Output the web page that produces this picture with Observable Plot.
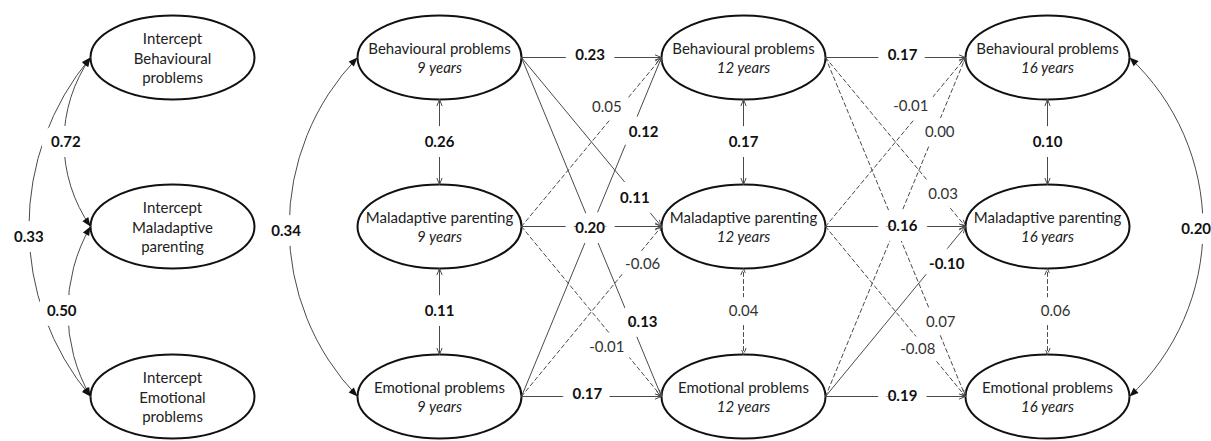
<!DOCTYPE html>
<html><head><meta charset="utf-8">
<script src="https://cdn.jsdelivr.net/npm/d3@7"></script>
<script src="https://cdn.jsdelivr.net/npm/@observablehq/plot@0.6"></script>
<style>html,body{margin:0;padding:0;background:#fff;} svg{display:block}</style>
</head><body><div id="chart"></div>
<script>
// ---------------- data ----------------
const constructKeys = ["B", "M", "E"];
const constructNames = ["Behavioural problems", "Maladaptive parenting", "Emotional problems"];
const waveLabels = ["9 years", "12 years", "16 years"];
const interceptNames = ["Intercept\nBehavioural\nproblems", "Intercept\nMaladaptive\nparenting", "Intercept\nEmotional\nproblems"];

// regression paths: [from, to, estimate, significant]
const paths9to12 = [
  ["B", "B", "0.23", true], ["B", "M", "0.11", true], ["B", "E", "0.13", true],
  ["M", "B", "0.05", false], ["M", "M", "0.20", true], ["M", "E", "-0.01", false],
  ["E", "B", "0.12", true], ["E", "M", "-0.06", false], ["E", "E", "0.17", true]
];
const paths12to16 = [
  ["B", "B", "0.17", true], ["B", "M", "0.03", false], ["B", "E", "0.07", false],
  ["M", "B", "-0.01", false], ["M", "M", "0.16", true], ["M", "E", "-0.08", false],
  ["E", "B", "0.00", false], ["E", "M", "-0.10", true], ["E", "E", "0.19", true]
];
// within-wave covariances: [wave, upper, lower, estimate, significant]
const withinCov = [
  [0, "B", "M", "0.26", true], [0, "M", "E", "0.11", true],
  [1, "B", "M", "0.17", true], [1, "M", "E", "0.04", false],
  [2, "B", "M", "0.10", true], [2, "M", "E", "0.06", false]
];
// intercept covariances: [upper, lower, estimate]
const interceptCov = [["B", "M", "0.72"], ["M", "E", "0.50"], ["B", "E", "0.33"]];
// behavioural–emotional covariances at first and last wave: [wave, estimate]
const outerCov = [[0, "0.34"], [2, "0.20"]];

// ---------------- layout ----------------
const W = 1211, H = 441;
const interceptX = 172;
const colX = [439, 743, 1047];
const rowY = {B: 57, M: 226, E: 396};
const RX = 82, RY = 42;
// label placement along each path: [t, dx, dy]
const place9to12 = {BB: [0.49, 0, -2], BM: [0.81, 0, 4], BE: [0.78, 12, 0], MB: [0.61, 0, -16], MM: [0.49, 0, 2],
  ME: [0.61, 0, 17], EB: [0.78, 13, 0], EM: [0.78, 12, 0], EE: [0.47, 0, -2]};
const place12to16 = {BB: [0.55, 0, -2], BM: [0.84, 0, -5], BE: [0.78, 6, 0], MB: [0.61, 0, -17], MM: [0.55, 0, 0],
  ME: [0.66, 0, 10], EB: [0.78, 5, 0], EM: [0.78, 12, 0], EE: [0.55, 0, 0]};
const interceptBend = {BM: -35, ME: -30, BE: -40};
const interceptLabelShift = {BM: [2, 0], ME: [-6, 0], BE: [0, 10]};
const outerBend = [-44, 0, 47];
const outerLabelShift = [[-3, 4], null, [-7, 2]];

// ---------------- derived geometry ----------------
const nodes = [];
constructKeys.forEach((k, i) => {
  nodes.push({x: interceptX, y: rowY[k], name: interceptNames[i], kind: "intercept"});
  colX.forEach((cx, w) => nodes.push({x: cx, y: rowY[k], name: constructNames[i], wave: waveLabels[w], kind: "wave"}));
});

const edges = [];
[[paths9to12, place9to12, 0], [paths12to16, place12to16, 1]].forEach(([paths, place, w]) => {
  paths.forEach(([f, t, est, sig]) => {
    const x1 = colX[w] + RX, y1 = rowY[f], x2 = colX[w + 1] - RX, y2 = rowY[t];
    const [tt, dx, dy] = place[f + t];
    edges.push({x1, y1, x2, y2, est, sig, lx: x1 + tt * (x2 - x1) + dx, ly: y1 + tt * (y2 - y1) + dy});
  });
});

const vArrows = [], labels = [];
edges.forEach(e => labels.push({x: e.lx, y: e.ly, text: e.est, bold: e.sig}));
withinCov.forEach(([w, a, b, est, sig]) => {
  const x = colX[w], ya = rowY[a] + RY, yb = rowY[b] - RY, ym = (ya + yb) / 2;
  vArrows.push({x1: x, y1: ym, x2: x, y2: ya, sig});
  vArrows.push({x1: x, y1: ym, x2: x, y2: yb, sig});
  labels.push({x: x + (w === 2 && !sig ? 8 : 0), y: ym, text: est, bold: sig});
});

const curves = [], heads = [];
function addCurve(x1, y1, x2, y2, bend, est, shift) {
  curves.push({x1, y1, x2, y2, bend});
  const dx = x2 - x1, dy = y2 - y1, L = Math.hypot(dx, dy), a = Math.atan2(dy, dx), b = bend * Math.PI / 180;
  const s = (L / 2) * Math.tan(b / 2);
  const ux = dx / L, uy = dy / L;
  const mx = (x1 + x2) / 2 + s * uy, my = (y1 + y2) / 2 - s * ux;
  labels.push({x: mx + shift[0], y: my + shift[1], text: est, bold: true});
  heads.push({x: x1, y: y1, rot: (a - b + Math.PI) * 180 / Math.PI + 90});
  heads.push({x: x2, y: y2, rot: (a + b) * 180 / Math.PI + 90});
}
interceptCov.forEach(([a, b, est]) => addCurve(interceptX - RX, rowY[a], interceptX - RX, rowY[b], interceptBend[a + b], est, interceptLabelShift[a + b]));
outerCov.forEach(([w, est]) => {
  const x = w === 0 ? colX[w] - RX : colX[w] + RX;
  addCurve(x, rowY.B, x, rowY.E, outerBend[w], est, outerLabelShift[w]);
});

// ---------------- symbols ----------------
const ellipseSymbol = {draw(ctx) {
  const k = 0.5523, a = RX, b = RY;
  ctx.moveTo(a, 0);
  ctx.bezierCurveTo(a, k * b, k * a, b, 0, b);
  ctx.bezierCurveTo(-k * a, b, -a, k * b, -a, 0);
  ctx.bezierCurveTo(-a, -k * b, -k * a, -b, 0, -b);
  ctx.bezierCurveTo(k * a, -b, a, -k * b, a, 0);
  ctx.closePath();
}};
const headSymbol = {draw(ctx) {
  ctx.moveTo(0, 0); ctx.lineTo(3.6, 9); ctx.lineTo(-3.6, 9); ctx.closePath();
}};

const LINE = "#4a4a4a";
const FONT = "Lato, 'Open Sans', sans-serif";
const arrowOpts = {x1: "x1", y1: "y1", x2: "x2", y2: "y2", stroke: LINE, strokeWidth: 1, headLength: 10, headAngle: 44};

const chart = Plot.plot({
  width: W, height: H, margin: 0,
  x: {domain: [0, W], range: [0, W], axis: null},
  y: {domain: [0, H], range: [0, H], axis: null},
  style: {background: "white", fontFamily: FONT},
  marks: [
    Plot.dot(nodes, {x: "x", y: "y", symbol: ellipseSymbol, fill: "white", stroke: "#111", strokeWidth: 2}),
    Plot.arrow(edges.filter(d => d.sig), arrowOpts),
    Plot.arrow(edges.filter(d => !d.sig), {...arrowOpts, strokeDasharray: "4,3"}),
    Plot.arrow(vArrows.filter(d => d.sig), arrowOpts),
    Plot.arrow(vArrows.filter(d => !d.sig), {...arrowOpts, strokeDasharray: "4,3"}),
    ...curves.map(c => Plot.arrow([c], {x1: "x1", y1: "y1", x2: "x2", y2: "y2", bend: c.bend, headLength: 0, stroke: LINE, strokeWidth: 1})),
    Plot.dot(heads, {x: "x", y: "y", symbol: headSymbol, rotate: "rot", fill: "#111", stroke: null}),
    Plot.text(labels.filter(d => d.bold), {x: "x", y: "y", text: "text", fontSize: 15, fontWeight: "bold", fill: "#111",
      stroke: "white", strokeWidth: 20, paintOrder: "stroke", strokeLinejoin: "round", fontFamily: FONT}),
    Plot.text(labels.filter(d => !d.bold), {x: "x", y: "y", text: "text", fontSize: 15, fill: "#333",
      stroke: "white", strokeWidth: 16, paintOrder: "stroke", strokeLinejoin: "round", fontFamily: FONT}),
    Plot.text(nodes.filter(d => d.kind === "intercept"), {x: "x", y: "y", text: "name", fontSize: 15, lineHeight: 1.3, fill: "#222", fontFamily: FONT}),
    Plot.text(nodes.filter(d => d.kind === "wave"), {x: "x", y: "y", dy: -8, text: "name", fontSize: 15, fill: "#222", fontFamily: FONT}),
    Plot.text(nodes.filter(d => d.kind === "wave"), {x: "x", y: "y", dy: 11, text: "wave", fontSize: 15, fontStyle: "italic", fill: "#222", fontFamily: FONT})
  ]
});
document.getElementById("chart").appendChild(chart);
</script>
</body></html>
